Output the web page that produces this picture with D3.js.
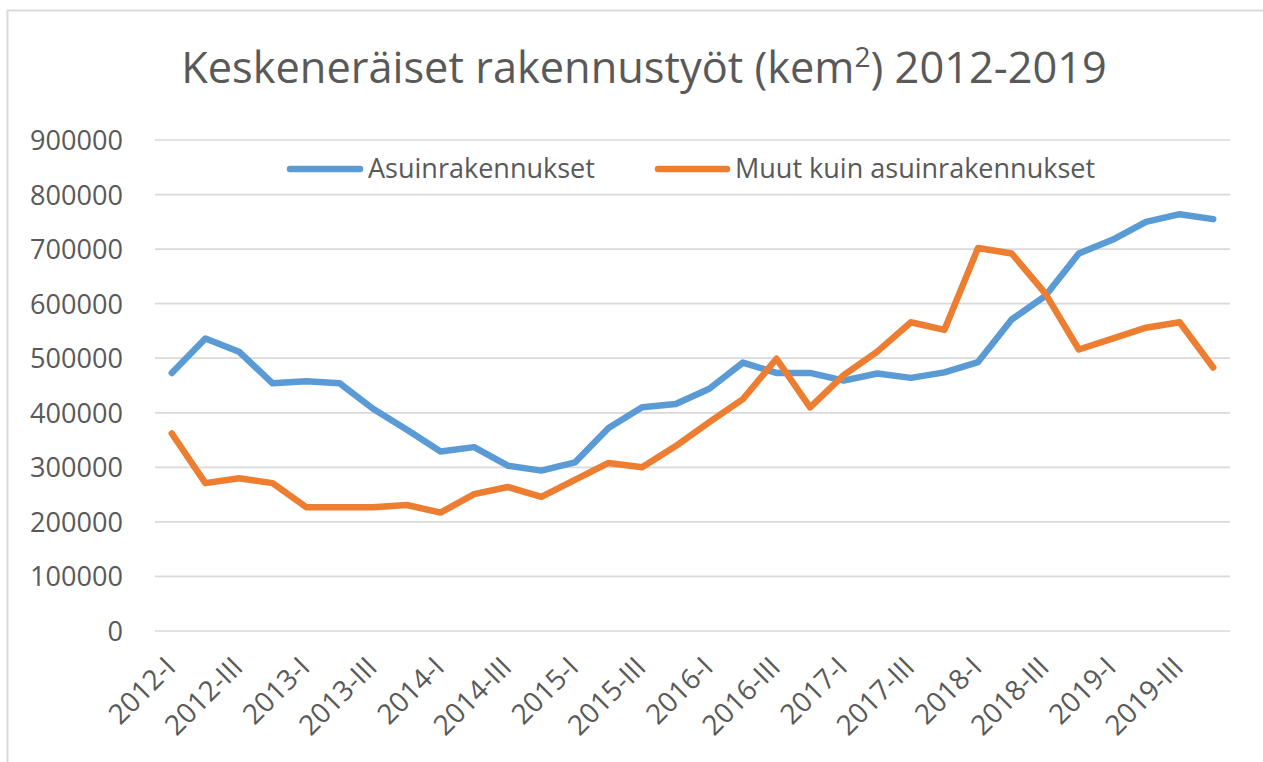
<!DOCTYPE html>
<html><head><meta charset="utf-8">
<script src="https://cdn.jsdelivr.net/npm/d3@7"></script>
<style>body{margin:0;background:#fff}svg{display:block}</style>
</head><body>
<svg id="c" width="1263" height="762"></svg>
<script>
const categories = ["2012-I","2012-II","2012-III","2012-IV","2013-I","2013-II","2013-III","2013-IV",
"2014-I","2014-II","2014-III","2014-IV","2015-I","2015-II","2015-III","2015-IV",
"2016-I","2016-II","2016-III","2016-IV","2017-I","2017-II","2017-III","2017-IV",
"2018-I","2018-II","2018-III","2018-IV","2019-I","2019-II","2019-III","2019-IV"];
const asuin = [473000,536000,512000,454000,458000,454000,407000,369000,
329000,337000,303000,294000,309000,372000,410000,416000,
444000,492000,473000,473000,459000,472000,464000,474000,
493000,571000,614000,692000,717000,750000,764000,755000];
const muut = [362000,271000,280000,271000,227000,227000,227000,231000,
217000,251000,264000,246000,277000,308000,300000,339000,
383000,425000,499000,410000,469000,512000,566000,552000,
702000,692000,619000,516000,536000,556000,566000,483000];
const yTicks = [0,100000,200000,300000,400000,500000,600000,700000,800000,900000];
const seriesNames = ["Asuinrakennukset","Muut kuin asuinrakennukset"];
const colors = ["#5B9BD5","#ED7D31"];

const FONT = "'Open Sans', sans-serif";
const TXT = "#595959";
const svg = d3.select("#c");

svg.append("rect").attr("x",7.5).attr("y",10.5).attr("width",1262).attr("height",760)
  .attr("fill","none").attr("stroke","#d9d9d9").attr("stroke-width",2);

const x = d3.scalePoint().domain(categories).range([155,1230]).padding(0.5);
const y = d3.scaleLinear().domain([0,900000]).range([631,140]);

function fitSize(str, target, base){
  const t = svg.append("text").attr("font-family",FONT).attr("font-size",base).text(str);
  const w = t.node().getComputedTextLength();
  t.remove();
  return base*target/w;
}

// grid
svg.append("g").selectAll("line").data(yTicks).join("line")
  .attr("x1",155).attr("x2",1230).attr("y1",d=>y(d)).attr("y2",d=>y(d))
  .attr("stroke","#d9d9d9").attr("stroke-width",1.7);

// y labels
const yFs = fitSize("900000",93,24);
const yAxis = d3.axisLeft(y).tickValues(yTicks).tickSize(0).tickPadding(0).tickFormat(d3.format("d"));
const ya = svg.append("g").attr("transform","translate(123,0)").call(yAxis);
ya.select(".domain").remove();
ya.selectAll("text").attr("font-family",FONT).attr("font-size",yFs).attr("fill",TXT).attr("dy","0.35em");

// x labels
const xAxis = d3.axisBottom(x).tickValues(categories.filter((d,i)=>i%2===0)).tickSize(0).tickPadding(0);
const xa = svg.append("g").attr("transform","translate(0,662)").call(xAxis);
xa.select(".domain").remove();
xa.selectAll("text").attr("font-family",FONT).attr("font-size",yFs*1.03).attr("fill",TXT)
  .attr("text-anchor","end").attr("dy","0.35em").attr("y",0)
  .attr("transform","translate(-2,0) rotate(-45)");

// lines
const line = d3.line().x((d,i)=>x(categories[i])).y(d=>y(d));
[asuin,muut].forEach((s,k)=>{
  svg.append("path").datum(s).attr("d",line).attr("fill","none")
    .attr("stroke",colors[k]).attr("stroke-width",6.5)
    .attr("stroke-linejoin","round").attr("stroke-linecap","round");
});

// legend
const legFs = fitSize(seriesNames[0],227,24);
const leg = [{x1:290,x2:360,tx:368},{x1:658,x2:727,tx:735}];
leg.forEach((L,k)=>{
  svg.append("line").attr("x1",L.x1).attr("x2",L.x2).attr("y1",169).attr("y2",169)
    .attr("stroke",colors[k]).attr("stroke-width",6.5).attr("stroke-linecap","round");
  svg.append("text").attr("x",L.tx).attr("y",178).attr("font-family",FONT).attr("font-size",legFs)
    .attr("fill",TXT).text(seriesNames[k]);
});

// title
const title = svg.append("text").attr("x",644).attr("y",83).attr("text-anchor","middle")
  .attr("font-family",FONT).attr("fill",TXT).attr("font-size",40);
title.append("tspan").text("Keskeneräiset rakennustyöt (kem");
title.append("tspan").text("2").attr("font-size",26).attr("dy",-15);
title.append("tspan").text(") 2012-2019").attr("dy",15);
const tw = title.node().getComputedTextLength();
const s = 40*926/tw;
title.attr("font-size",s);
title.selectAll("tspan").filter((d,i)=>i===1).attr("font-size",s*0.65).attr("dy",-s*0.38);
title.selectAll("tspan").filter((d,i)=>i===2).attr("dy",s*0.38);
</script>
</body></html>
